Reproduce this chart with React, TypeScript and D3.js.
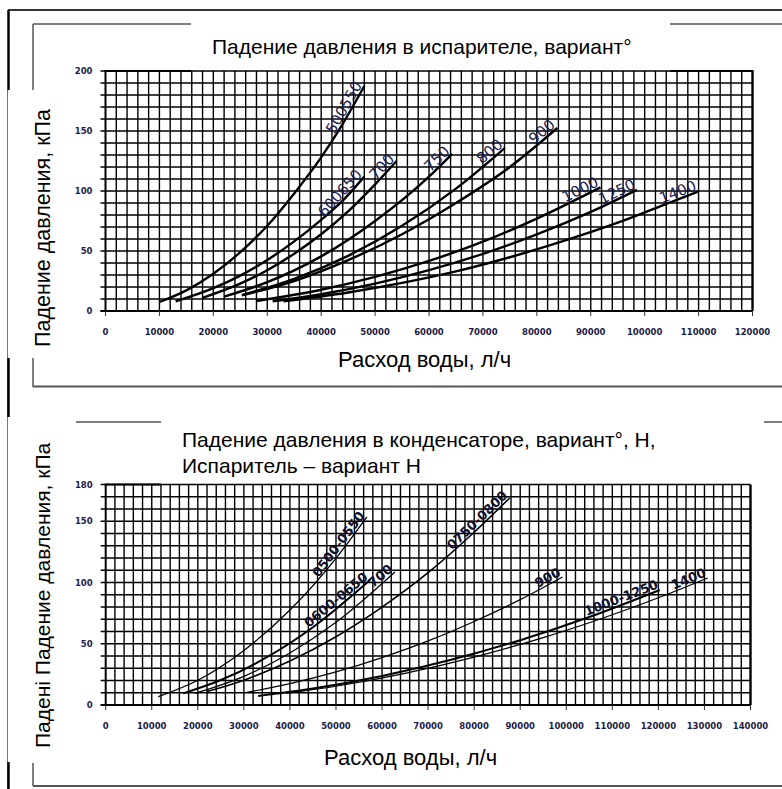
import React from "react";
import * as d3 from "d3";

// --- испаритель (верхний график): расход л/ч, падение кПа
const evapXTicks = [0, 10000, 20000, 30000, 40000, 50000, 60000, 70000, 80000, 90000, 100000, 110000, 120000];
const evapYTicks = [0, 50, 100, 150, 200];
const evapNames = ["500550", "600650", "700", "750", "800", "900", "1000", "1250", "1400"];
const evap500550: [number, number][] = [[10000, 7.5], [15000, 17.2], [20000, 31], [25000, 49], [30000, 71], [35000, 98], [40000, 128], [44000, 156], [48000, 187.5]];
const evap600650: [number, number][] = [[13000, 8], [20000, 19], [25000, 29.5], [30000, 42.5], [35000, 58], [40000, 76], [44000, 92], [48000, 112]];
const evap700: [number, number][] = [[18000, 11], [25000, 22.8], [30000, 34], [35000, 47.8], [40000, 64], [45000, 83], [50000, 105.5], [54000, 125]];
const evap750: [number, number][] = [[22000, 12], [30000, 24], [40000, 45.5], [50000, 75], [60000, 112], [64300, 131]];
const evap800: [number, number][] = [[25300, 13.3], [35000, 26.8], [45000, 46], [55000, 71], [65000, 102], [74100, 136]];
const evap900: [number, number][] = [[25300, 13], [35000, 25], [45000, 42.4], [55000, 64], [65000, 90], [75000, 120], [83800, 152.5]];
const evap1000: [number, number][] = [[28000, 8.3], [40000, 17.7], [50000, 28.4], [60000, 41.7], [70000, 57.8], [80000, 77], [91800, 103]];
const evap1250: [number, number][] = [[31000, 8], [40000, 14], [50000, 22.8], [60000, 34], [70000, 47.6], [80000, 63.8], [90000, 82.6], [98600, 101]];
const evap1400: [number, number][] = [[33000, 8], [45000, 15.4], [55000, 23.4], [65000, 33], [75000, 44.8], [85000, 58.4], [95000, 73.6], [105000, 91], [109900, 99.5]];

// --- конденсатор (нижний график)
const condXTicks = [0, 10000, 20000, 30000, 40000, 50000, 60000, 70000, 80000, 90000, 100000, 110000, 120000, 130000, 140000];
const condYTicks = [0, 50, 100, 150, 180];
const condNames = ["0500-0550", "0600-0650", "700", "0750-0800", "900", "1000-1250", "1400"];
const cond0500: [number, number][] = [[11400, 6.8], [20000, 20.2], [30000, 44.5], [40000, 77.5], [50000, 119.7], [56700, 153.5]];
const cond0600: [number, number][] = [[16800, 9.5], [25000, 20.4], [35000, 39], [45000, 63.5], [57400, 102]];
const cond700: [number, number][] = [[19400, 9.5], [30000, 23.4], [40000, 42.5], [50000, 67.5], [62800, 108.6]];
const cond0750: [number, number][] = [[22000, 11], [30000, 20.3], [40000, 35.9], [50000, 55.7], [60000, 79.9], [70000, 108], [80000, 141], [87700, 169]];
const cond900: [number, number][] = [[30200, 10], [40000, 17.4], [50000, 27], [60000, 38.7], [70000, 52.3], [80000, 68.2], [90000, 86], [99200, 104.5]];
const cond1000: [number, number][] = [[33100, 7.3], [45000, 13.4], [60000, 23.7], [75000, 36.9], [90000, 52.9], [105000, 71.8], [120300, 93.9]];
const cond1400: [number, number][] = [[39300, 9.5], [50000, 15.3], [65000, 25.8], [80000, 39.1], [95000, 55], [110000, 73.7], [125000, 94.9], [130700, 103.7]];

type Pt = [number, number];

interface PanelProps {
  xMax: number;
  yMax: number;
  xRange: [number, number];
  yRange: [number, number];
  xTicks: number[];
  yTicks: number[];
  series: Pt[][];
  names: string[];
  widths: number[];
  topSegs: [number, number][];
  labelStyle: React.CSSProperties;
}

const tickFont = "DejaVu Sans, Verdana, sans-serif";

const Panel = (p: PanelProps) => {
  const x = d3.scaleLinear().domain([0, p.xMax]).range(p.xRange);
  const y = d3.scaleLinear().domain([0, p.yMax]).range(p.yRange);
  const line = d3.line<Pt>().x(d => x(d[0])).y(d => y(d[1])).curve(d3.curveMonotoneX);
  const [x0, x1] = p.xRange;
  const [y0, y1] = p.yRange;
  const vGrid = d3.range(2000, p.xMax, 2000);
  const hGrid = d3.range(0, p.yMax + 0.1, 10);
  return (
    <g>
      {hGrid.map(v => (
        <line key={"h" + v} x1={x0 - 5} x2={x1} y1={y(v)} y2={y(v)} stroke="#000" strokeWidth={1.4} />
      ))}
      {vGrid.map(v => (
        <line key={"v" + v} x1={x(v)} x2={x(v)} y1={y1} y2={y0} stroke="#000" strokeWidth={1.4} />
      ))}
      {/* верхняя рамка частично закрыта заголовком */}
      {p.topSegs.map((s, i) => (
        <line key={"t" + i} x1={s[0]} x2={s[1]} y1={y1} y2={y1} stroke="#000" strokeWidth={2.2} />
      ))}
      <line x1={x1} x2={x1} y1={y1} y2={y0} stroke="#000" strokeWidth={2.4} />
      <line x1={x0} x2={x0} y1={y1} y2={y0} stroke="#000" strokeWidth={2} />
      <line x1={x0 - 5} x2={x1} y1={y0} y2={y0} stroke="#000" strokeWidth={2} />
      {p.xTicks.map(t => (
        <g key={"xt" + t}>
          <line x1={x(t)} x2={x(t)} y1={y0} y2={y0 + 5} stroke="#333" strokeWidth={1} />
          <text x={x(t)} y={y0 + 24} textAnchor="middle" fontFamily={tickFont} fontWeight="bold" fontSize={8.5} fill="#1c1c48">
            {t}
          </text>
        </g>
      ))}
      {p.yTicks.map(t => (
        <text key={"yt" + t} x={x0 - 13} y={y(t) + 3} textAnchor="end" fontFamily={tickFont} fontWeight="bold" fontSize={8.5} fill="#1c1c48">
          {t}
        </text>
      ))}
      {p.series.map((s, i) => (
        <path key={"s" + i} d={line(s) || ""} fill="none" stroke="#000" strokeWidth={p.widths[i]} />
      ))}
      {p.series.map((s, i) => {
        const a = s[s.length - 2];
        const b = s[s.length - 1];
        const ang = (Math.atan2(y(b[1]) - y(a[1]), x(b[0]) - x(a[0])) * 180) / Math.PI;
        return (
          <text
            key={"l" + i}
            transform={`translate(${x(b[0])},${y(b[1])}) rotate(${ang})`}
            textAnchor="end"
            dy={-2}
            style={p.labelStyle}
          >
            {p.names[i]}
          </text>
        );
      })}
    </g>
  );
};

const App = () => {
  const titleFont = "Liberation Sans, Arial, sans-serif";
  return (
    <div style={{ position: "absolute", left: 0, top: 0, width: 782, height: 789, background: "#fff" }}>
      <svg width={782} height={789} style={{ display: "block" }}>
        <rect width={782} height={789} fill="#fff" />
        {/* рамки */}
        <line x1={8} x2={782} y1={10} y2={10} stroke="#333" strokeWidth={2} />
        <line x1={7.5} x2={7.5} y1={90} y2={789} stroke="#777" strokeWidth={1} />
        <line x1={8.5} x2={8.5} y1={10} y2={90} stroke="#000" strokeWidth={2.5} />
        <line x1={8.5} x2={8.5} y1={358} y2={417} stroke="#000" strokeWidth={2.5} />
        <line x1={8.5} x2={8.5} y1={762} y2={789} stroke="#000" strokeWidth={2.5} />
        <line x1={33} x2={191} y1={24} y2={24} stroke="#555" strokeWidth={1.5} />
        <line x1={670} x2={782} y1={24} y2={24} stroke="#555" strokeWidth={1.5} />
        <line x1={33} x2={33} y1={24} y2={90} stroke="#555" strokeWidth={1.5} />
        <line x1={33} x2={33} y1={358} y2={387} stroke="#555" strokeWidth={1.5} />
        <line x1={33} x2={782} y1={386.5} y2={386.5} stroke="#555" strokeWidth={2} />
        <line x1={76} x2={161} y1={422} y2={422} stroke="#555" strokeWidth={1.5} />
        <line x1={764} x2={782} y1={422} y2={422} stroke="#555" strokeWidth={1.5} />
        <line x1={33} x2={33} y1={763} y2={786} stroke="#555" strokeWidth={1.5} />
        <line x1={33} x2={782} y1={786} y2={786} stroke="#555" strokeWidth={2} />

        <Panel
          xMax={120000}
          yMax={200}
          xRange={[105.5, 752.5]}
          yRange={[311, 71]}
          xTicks={evapXTicks}
          yTicks={evapYTicks}
          series={[evap500550, evap600650, evap700, evap750, evap800, evap900, evap1000, evap1250, evap1400]}
          names={evapNames}
          widths={[2.4, 2.4, 2.4, 2.4, 2.4, 2.4, 2.4, 2.4, 2.4]}
          topSegs={[[104.5, 191], [670, 753.5]]}
          labelStyle={{ fontFamily: "DejaVu Sans, sans-serif", fontSize: 15, fontWeight: "normal", fill: "#1a1a50" }}
        />
        <Panel
          xMax={140000}
          yMax={180}
          xRange={[105.7, 750.5]}
          yRange={[705, 484.5]}
          xTicks={condXTicks}
          yTicks={condYTicks}
          series={[cond0500, cond0600, cond700, cond0750, cond900, cond1000, cond1400]}
          names={condNames}
          widths={[1.3, 2, 1.2, 1.6, 1.2, 2, 1.2]}
          topSegs={[[104.7, 161]]}
          labelStyle={{ fontFamily: "DejaVu Sans, sans-serif", fontSize: 13, fontWeight: "bold", fill: "#10102a" }}
        />

        {/* заголовки */}
        <text x={212} y={54} fontFamily={titleFont} fontSize={21} fill="#000">
          Падение давления в испарителе, вариант°
        </text>
        <text x={182} y={447} fontFamily={titleFont} fontSize={21} fill="#000">
          Падение давления в конденсаторе, вариант°, Н,
        </text>
        <text x={182} y={473} fontFamily={titleFont} fontSize={21} fill="#000">
          Испаритель – вариант Н
        </text>
        <text x={338} y={367} fontFamily={titleFont} fontSize={22} fill="#000">
          Расход воды, л/ч
        </text>
        <text x={324} y={765} fontFamily={titleFont} fontSize={22} fill="#000">
          Расход воды, л/ч
        </text>
        <text transform="translate(50,347) rotate(-90)" fontFamily={titleFont} fontSize={21.5} fill="#000">
          Падение давления, кПа
        </text>
        <text transform="translate(50,748) rotate(-90)" fontFamily={titleFont} fontSize={21} fill="#000">
          Падені Падение давления, кПа
        </text>
      </svg>
    </div>
  );
};

export default App;
